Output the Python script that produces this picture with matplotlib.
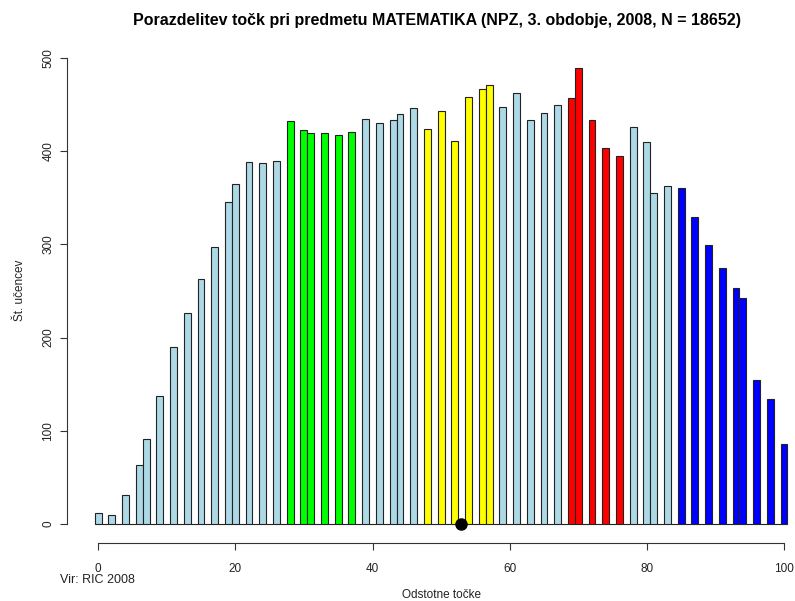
import matplotlib
matplotlib.use("Agg")
import matplotlib.pyplot as plt

plt.rcParams['font.family'] = ['Liberation Sans', 'DejaVu Sans']

# percentage scores that occur (54-point test) and number of pupils at each
scores = [0, 2, 4, 6, 7, 9, 11, 13, 15, 17, 19, 20, 22, 24, 26, 28, 30, 31, 33, 35,
          37, 39, 41, 43, 44, 46, 48, 50, 52, 54, 56, 57, 59, 61, 63, 65, 67, 69, 70, 72,
          74, 76, 78, 80, 81, 83, 85, 87, 89, 91, 93, 94, 96, 98, 100]
counts = [12, 10, 31, 63, 91, 137, 190, 226, 263, 297, 346, 365, 388, 387, 389, 432, 423, 420, 420, 417,
          421, 435, 430, 434, 440, 446, 424, 443, 411, 458, 467, 471, 447, 462, 434, 441, 450, 457, 489, 434,
          403, 395, 426, 410, 355, 363, 360, 329, 299, 275, 253, 242, 155, 134, 86]

# highlighted score bands (inclusive) and their colours
bands = [(28, 37, '#00FF00'), (48, 57, '#FFFF00'), (69, 76, '#FF0000'), (85, 100, '#0000FF')]
base_color = '#ADD8E6'

mean_score = 52.9

title = "Porazdelitev točk pri predmetu MATEMATIKA (NPZ, 3. obdobje, 2008, N = 18652)"
x_label = "Odstotne točke"
y_label = "Št. učencev"
source = "Vir: RIC 2008"
x_ticks = [0, 20, 40, 60, 80, 100]
y_ticks = [0, 100, 200, 300, 400, 500]

# full 0..100 grid, empty scores drawn as zero-height bars
heights = [0] * 101
for s, c in zip(scores, counts):
    heights[s] = c


def band_color(x):
    for lo, hi, col in bands:
        if lo <= x <= hi:
            return col
    return base_color


colors = [band_color(x) for x in range(101)]

fig = plt.figure(figsize=(7.95, 6.01), dpi=100)
ax = fig.add_axes([0.0843, 0.0972, 0.9157, 0.8373])
ax.bar(range(101), heights, width=1.0, color=colors, edgecolor='#222222', linewidth=0.8)
ax.plot([mean_score], [0], 'o', color='black', markersize=8, clip_on=False, zorder=5)

ax.set_xlim(-4.54, 101.6)
ax.set_ylim(-20, 520)
for side in ('top', 'right'):
    ax.spines[side].set_visible(False)
ax.spines['left'].set_bounds(0, 500)
ax.spines['bottom'].set_bounds(0, 100)
for side in ('left', 'bottom'):
    ax.spines[side].set_color('#333333')
    ax.spines[side].set_linewidth(0.8)

ax.set_xticks(x_ticks)
ax.set_yticks(y_ticks)
ax.set_yticklabels([str(v) for v in y_ticks], rotation=90, va='center')
ax.tick_params(axis='both', direction='out', length=5, width=0.8, color='#333333',
               labelsize=8.5, labelcolor='#222222')
ax.tick_params(axis='x', pad=10)
ax.tick_params(axis='y', pad=4)

fig.text(437 / 795, 1 - 20 / 601, title, ha='center', va='center', fontsize=11.5, fontweight='bold')
fig.text(441 / 795, 1 - 595 / 601, x_label, ha='center', va='center', fontsize=8.5, color='#222222')
fig.text(20 / 795, 1 - 290 / 601, y_label, ha='center', va='center', rotation=90,
         fontsize=8.5, color='#222222')
fig.text(60 / 795, 1 - 580 / 601, source, ha='left', va='center', fontsize=9, color='#222222')

fig.savefig('out.png', dpi=100)
